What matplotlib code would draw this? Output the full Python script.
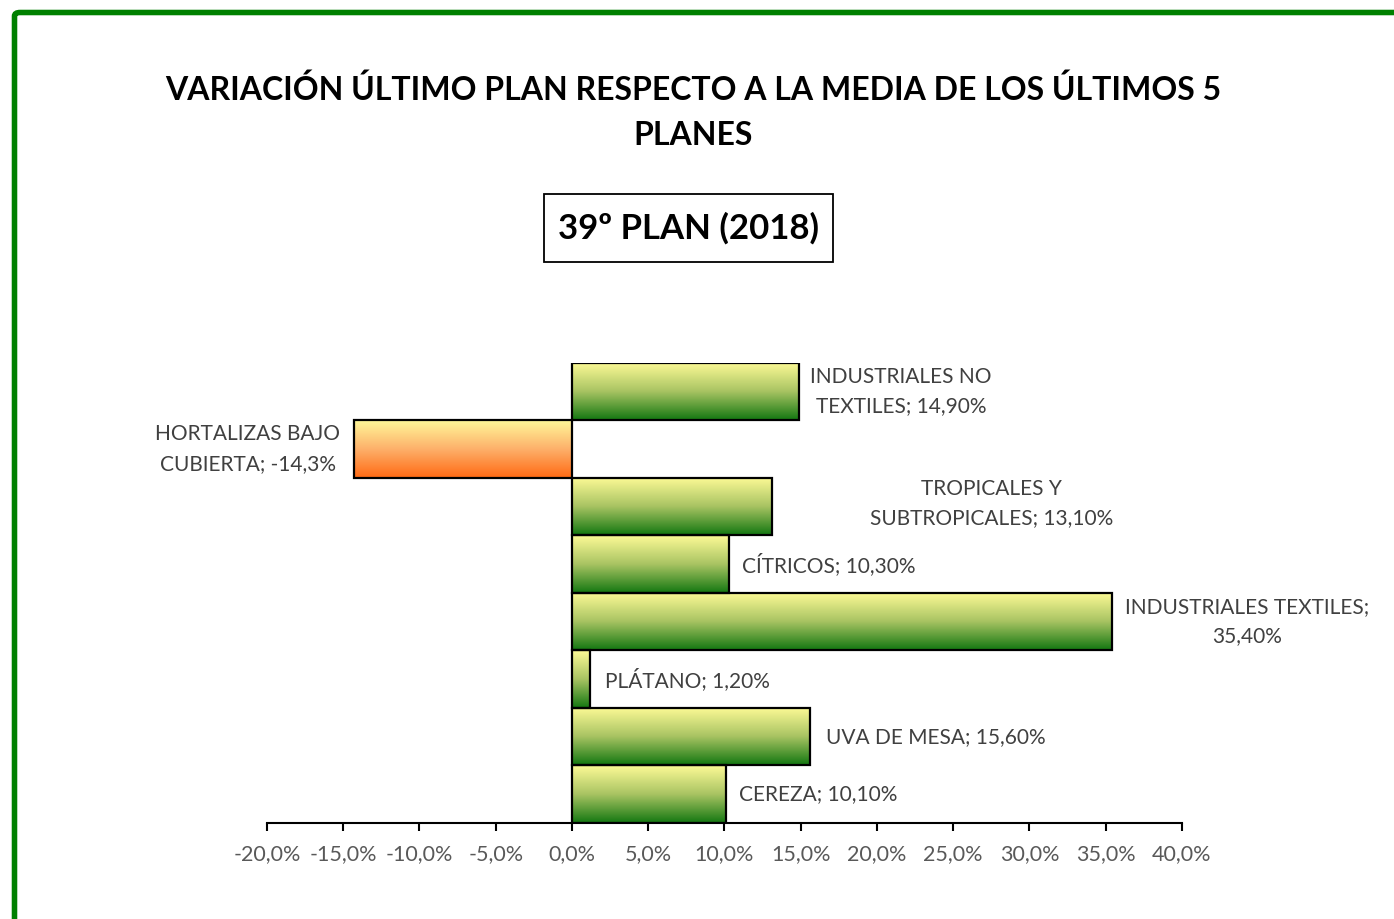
import matplotlib.pyplot as plt
import numpy as np
from matplotlib.colors import LinearSegmentedColormap
from matplotlib.patches import Rectangle, FancyBboxPatch

categories = ["INDUSTRIALES NO\nTEXTILES", "HORTALIZAS BAJO\nCUBIERTA", "TROPICALES Y\nSUBTROPICALES",
              "CÍTRICOS", "INDUSTRIALES TEXTILES;\n", "PLÁTANO", "UVA DE MESA", "CEREZA"]
values = [14.9, -14.3, 13.1, 10.3, 35.4, 1.2, 15.6, 10.1]
value_labels = ["14,90%", "-14,3%", "13,10%", "10,30%", "35,40%", "1,20%", "15,60%", "10,10%"]
xticks = [-20, -15, -10, -5, 0, 5, 10, 15, 20, 25, 30, 35, 40]

plt.rcParams['font.family'] = ['Lato', 'DejaVu Sans']

green = LinearSegmentedColormap.from_list("g", ["#157812", "#a9c463", "#fdfa96"])
orange = LinearSegmentedColormap.from_list("o", ["#ff6a14", "#fdb06a", "#fff799"])

fig = plt.figure(figsize=(13.94, 9.19), dpi=100)
ax = fig.add_axes([0.1915, 0.1045, 0.6564, 0.5006])

n = len(values)
ys = np.arange(n)[::-1]
grad = np.linspace(0, 1, 100).reshape(-1, 1)
for y, v in zip(ys, values):
    cmap = green if v >= 0 else orange
    x0, x1 = min(0, v), max(0, v)
    ax.imshow(grad, cmap=cmap, extent=[x0, x1, y - 0.5, y + 0.5], aspect="auto",
              origin="lower", zorder=1)
    ax.barh(y, v, height=1.0, facecolor="none", edgecolor="black", linewidth=1.6, zorder=2)

# label placement (offset in pixels, alignment)
label_pos = [(102, 0, "center"), (-106, 0, "center"), (220, 3, "center"), (13, 0, "left"),
             (135, 0, "center"), (15, 0, "left"), (16, 0, "left"), (13, 0, "left")]
for y, v, cat, lab, (dx, dy, ha) in zip(ys, values, categories, value_labels, label_pos):
    if cat.endswith("\n"):
        txt = cat + lab
    else:
        txt = cat + "; " + lab
    ax.annotate(txt, xy=(v, y), xytext=(dx, dy), textcoords="offset pixels",
                ha=ha, va="center", fontsize=15, color="#404040", linespacing=1.6,
                annotation_clip=False)

ax.set_xlim(-20, 40)
ax.set_ylim(-0.5, n - 0.5)
ax.set_xticks(xticks)
ax.set_xticklabels([f"{t:.1f}%".replace(".", ",") for t in xticks], fontsize=15.5, color="#595959")
ax.set_yticks([])
for s in ["left", "right", "top"]:
    ax.spines[s].set_visible(False)
ax.spines["bottom"].set_linewidth(1.5)
ax.tick_params(axis="x", direction="out", length=6, width=1.5, pad=9)

fig.text(0.497, 0.878, "VARIACIÓN ÚLTIMO PLAN RESPECTO A LA MEDIA DE LOS ÚLTIMOS 5\nPLANES",
         ha="center", va="center", fontsize=23, fontweight="bold", linespacing=1.65)
fig.text(0.494, 0.752, "39º PLAN (2018)", ha="center", va="center", fontsize=25, fontweight="bold")
fig.patches.append(Rectangle((544 / 1394, 1 - 262 / 919), 289 / 1394, 68 / 919,
                             transform=fig.transFigure, fill=False, edgecolor="black", linewidth=1.3))
fig.patches.append(FancyBboxPatch((14.5 / 1394, -0.1), 1.2, 1 - 12.5 / 919 + 0.1,
                                  boxstyle="round,pad=0,rounding_size=0.004",
                                  transform=fig.transFigure, fill=False, edgecolor="#008000",
                                  linewidth=4))

fig.savefig("out.png", dpi=100)
